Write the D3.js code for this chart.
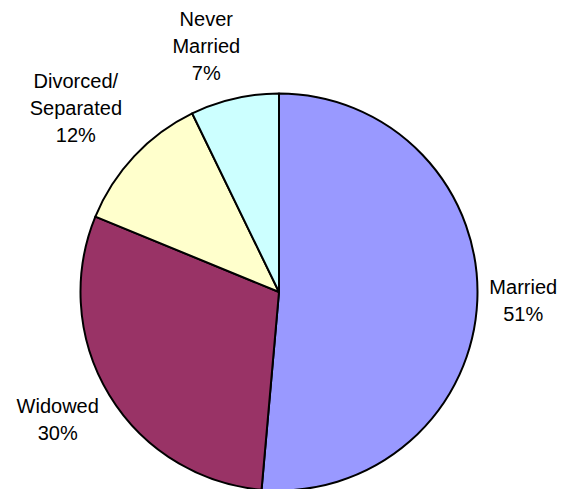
<!DOCTYPE html>
<html>
<head>
<meta charset="utf-8">
<script src="https://cdn.jsdelivr.net/npm/d3@7"></script>
<style>
  html, body { margin: 0; padding: 0; background: #fff; overflow: hidden; }
  text { font-family: "Liberation Sans", Arial, sans-serif; }
</style>
</head>
<body>
<div id="pie"></div>
<script>
// chart data, clockwise from 12 o'clock
var categories = ['Married', 'Widowed', 'Divorced/\nSeparated', 'Never\nMarried']
var shares = [51.4, 29.8, 11.6, 7.2]
var colors = ['#9999FF', '#993366', '#FFFFCC', '#CCFFFF']

var cfg = {
  w: 561,
  h: 489,
  cx: 279,
  cy: 292,
  radius: 198.5,
  labelGap: 50,
  fontSize: 20,
  lineHeight: 27,
  capHeight: 14.3,
  // hand nudges so the labels sit like Excel placed them
  nudge: [[-4, -3], [-9, -2], [-22, -14], [-17, -4]]
}

var rows = categories.map(function(c, i) {
  return {name: c, value: shares[i], color: colors[i]}
})

var svg = d3.select('#pie').append('svg')
  .attr('width', cfg.w)
  .attr('height', cfg.h)

var g = svg.append('g')
  .attr('transform', 'translate(' + cfg.cx + ',' + cfg.cy + ')')

var pie = d3.pie()
  .sort(null)
  .value(function(d) { return d.value })

var arc = d3.arc()
  .innerRadius(0)
  .outerRadius(cfg.radius)

var labelArc = d3.arc()
  .innerRadius(cfg.radius + cfg.labelGap)
  .outerRadius(cfg.radius + cfg.labelGap)

var slices = pie(rows)

g.selectAll('.slice')
  .data(slices)
  .enter().append('path')
  .attr('class', 'slice')
  .attr('d', arc)
  .style('fill', function(d) { return d.data.color })
  .style('stroke', '#000')
  .style('stroke-width', 2)
  .style('stroke-linejoin', 'round')

var labels = g.selectAll('.label')
  .data(slices)
  .enter().append('text')
  .attr('class', 'label')
  .attr('text-anchor', 'middle')
  .style('font-size', cfg.fontSize + 'px')
  .style('fill', '#000')

labels.each(function(d, i) {
  var lines = d.data.name.split('\n').concat([Math.round(d.data.value) + '%'])
  var c = labelArc.centroid(d)
  var x = c[0] + cfg.nudge[i][0]
  var mid = c[1] + cfg.nudge[i][1]
  var blockH = (lines.length - 1) * cfg.lineHeight + cfg.capHeight
  var y0 = mid - blockH / 2 + cfg.capHeight
  d3.select(this).selectAll('tspan')
    .data(lines)
    .enter().append('tspan')
    .attr('x', x)
    .attr('y', function(l, k) { return y0 + k * cfg.lineHeight })
    .text(function(l) { return l })
})
</script>
</body>
</html>
